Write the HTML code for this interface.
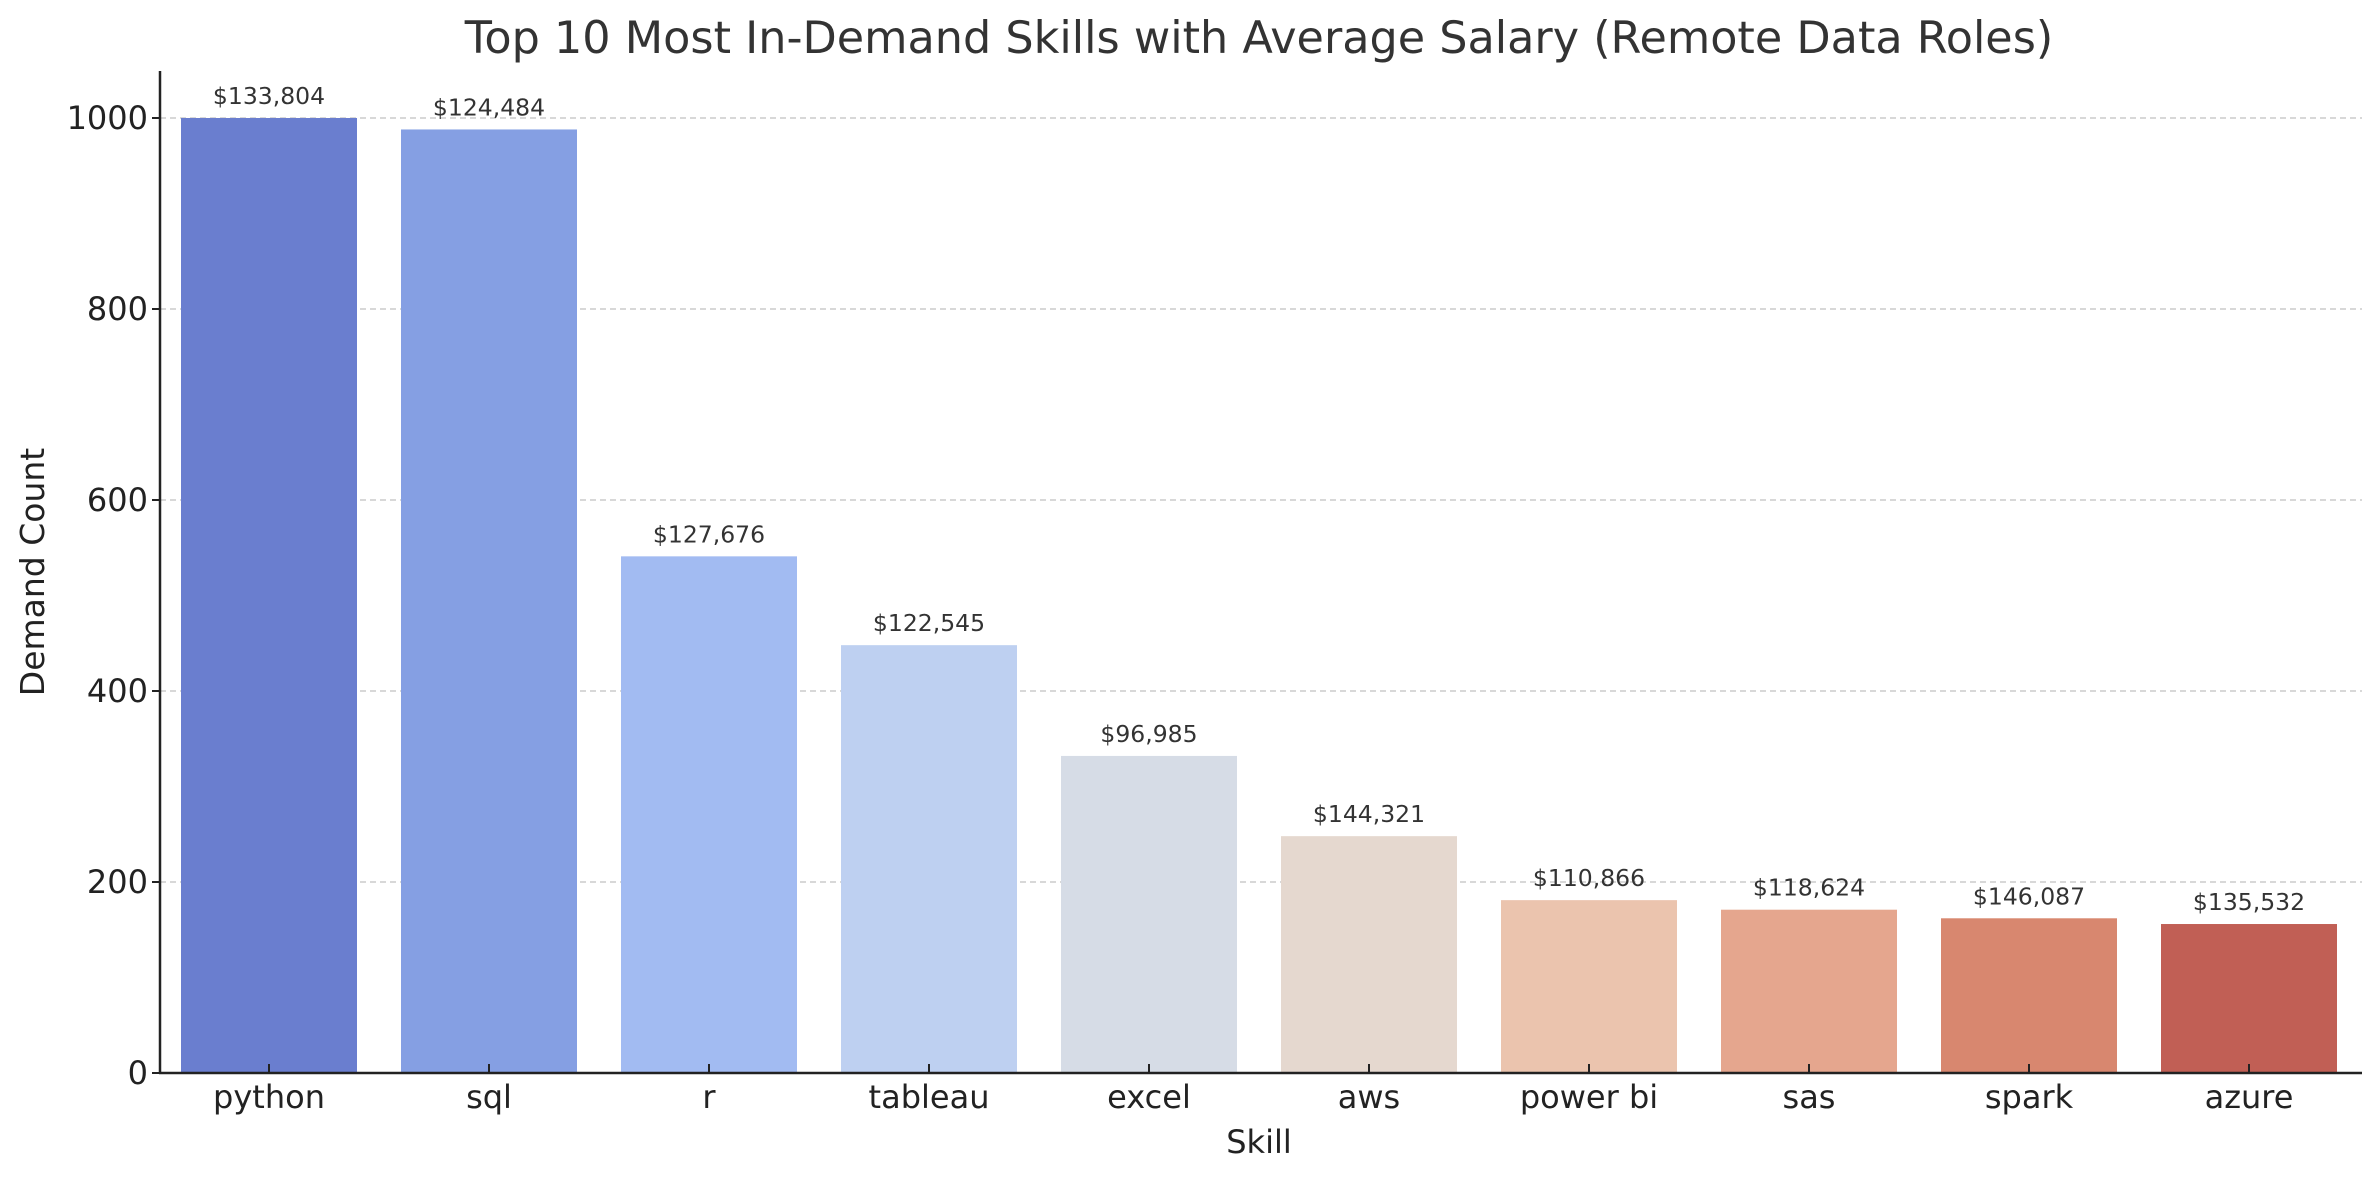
<!DOCTYPE html>
<html><head><meta charset="utf-8"><style>
html,body{margin:0;padding:0;background:#fff;}
svg{display:block;font-family:"DejaVu Sans","Liberation Sans",sans-serif;}
</style></head><body>
<svg id="chart" width="2379" height="1180">
<text x="1259" y="53" text-anchor="middle" font-size="44.5" fill="#333">Top 10 Most In-Demand Skills with Average Salary (Remote Data Roles)</text>
<g id="grid"></g><g id="bars"></g><g id="axes"></g>
<text x="1259" y="1153" text-anchor="middle" font-size="32" fill="#222">Skill</text>
<text transform="translate(44,572) rotate(-90)" text-anchor="middle" font-size="33" fill="#222">Demand Count</text>
</svg>
<script>
const skills=["python","sql","r","tableau","excel","aws","power bi","sas","spark","azure"];
const counts=[1000,988,541,448,332,248,181,171,162,156];
const salaries=["$133,804","$124,484","$127,676","$122,545","$96,985","$144,321","$110,866","$118,624","$146,087","$135,532"];
const colors=["#6a7ecf","#859fe3","#a2bbf2","#bed0f1","#d6dce6","#e5d8cf","#ebc4ae","#e5a68e","#d8876f","#c15f55"];
const yTicks=[0,200,400,600,800,1000];
const NS="http://www.w3.org/2000/svg";
const x0=160,x1=2362,yb=1073,yt=118,yMaxV=1000;
const y=v=>yb-(v/yMaxV)*(yb-yt);
const step=220,bw=176;
const xc=i=>269+i*step;
function mk(tag,attrs,parent){const e=document.createElementNS(NS,tag);for(const k in attrs)e.setAttribute(k,attrs[k]);parent.appendChild(e);return e;}
const grid=document.getElementById('grid'),bars=document.getElementById('bars'),axes=document.getElementById('axes');
yTicks.forEach(t=>{
  if(t>0){const g=mk('line',{x1:x0,x2:x1,y1:y(t),y2:y(t),stroke:'#ccc','stroke-width':1.5,'stroke-dasharray':'6,4'},grid);
  
  }
  const tk=mk('line',{x1:x0-8,x2:x0,y1:y(t),y2:y(t),stroke:'#222','stroke-width':2},axes);
  
  
  const tl=mk('text',{x:x0-12,y:y(t)+11,'text-anchor':'end','font-size':32,fill:'#222'},axes);tl.textContent=t;
  
  
});
skills.forEach((s,i)=>{
  const r=mk('rect',{x:xc(i)-bw/2,y:y(counts[i]),width:bw,height:yb-y(counts[i]),fill:colors[i]},bars);
  
  
  const v=mk('text',{x:xc(i),y:y(counts[i])-14,'text-anchor':'middle','font-size':23.5,fill:'#333'},bars);v.textContent=salaries[i];
  
  
  const tk=mk('line',{x1:xc(i),x2:xc(i),y1:yb,y2:yb-9,stroke:'#222','stroke-width':2},axes);
  
  
  const tl=mk('text',{x:xc(i),y:yb+35,'text-anchor':'middle','font-size':32,fill:'#222'},axes);tl.textContent=s;
  
  
});
const ya=mk('line',{x1:x0,x2:x0,y1:71,y2:yb+1,stroke:'#222','stroke-width':2.5},axes);


const xa=mk('line',{x1:x0-1,x2:x1,y1:yb,y2:yb,stroke:'#222','stroke-width':2.5},axes);


</script>
</body></html>
